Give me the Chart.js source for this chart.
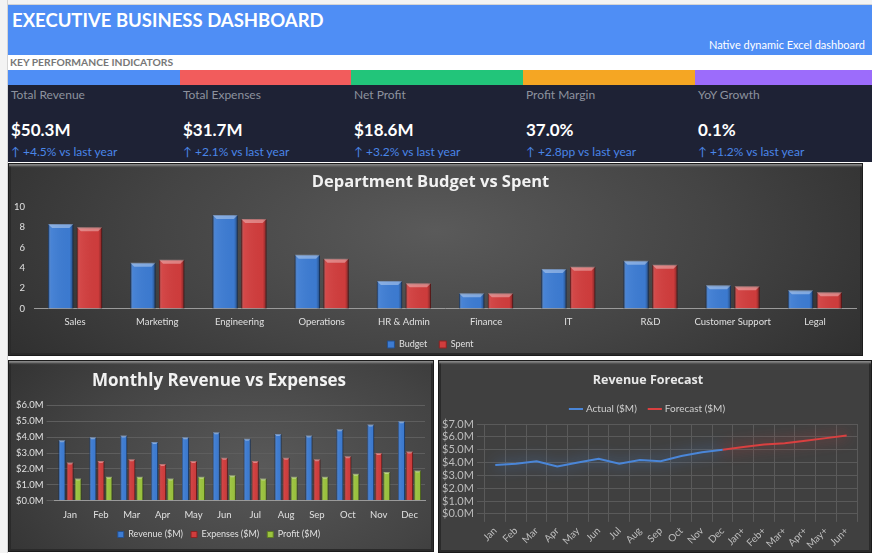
<!DOCTYPE html>
<html>
<head>
<meta charset="utf-8">
<script src="https://cdn.jsdelivr.net/npm/chart.js@4.4.1/dist/chart.umd.min.js"></script>
<style>
  html, body { margin: 0; padding: 0; }
  body { width: 872px; height: 553px; position: relative; overflow: hidden; background: #fff; font-family: Lato, "Open Sans", sans-serif; }
  .rowhdr { position: absolute; left: 0; top: 0; width: 7px; height: 553px; background: #f3f3f3; border-right: 1px solid #d4d4d4; }
  .colhdr { position: absolute; left: 0; top: 0; width: 872px; height: 4px; background: #f3f3f3; border-bottom: 1px solid #d4d4d4; }
  .header { position: absolute; left: 8px; top: 5px; width: 864px; height: 50px; background: #4f8ef5; color: #fff; }
  .header h1 { margin: 0; position: absolute; left: 4px; top: 4px; font-size: 18.5px; font-weight: 700; }
  .header .sub { position: absolute; right: 7px; top: 33px; font-size: 11px; }
  .kpititle { position: absolute; left: 10px; top: 56px; font-size: 10.3px; font-weight: 700; color: #777; }
  .kpibar { position: absolute; top: 70px; height: 15px; }
  .kpibox { position: absolute; top: 85px; height: 77px; background: #1e2235; }
  .kpibox .lbl { position: absolute; left: 3px; top: 2px; font-size: 12px; color: #8d929e; }
  .kpibox .val { position: absolute; left: 3px; top: 34px; font-size: 17px; font-weight: 700; color: #fff; }
  .kpibox .chg { position: absolute; left: 3px; top: 59px; font-size: 12px; color: #4a86e8; }
  .panel { position: absolute; box-sizing: border-box; border: 1px solid #1c1c1c; box-shadow: inset 0 3px 2px -1px #8a8a8a, inset 0 0 0 2px #2a2a2a; }
  .panel canvas { position: absolute; left: 0; top: 0; }
</style>
</head>
<body>
<div class="colhdr"></div>
<div class="rowhdr"></div>
<div class="header">
  <h1>EXECUTIVE BUSINESS DASHBOARD</h1>
  <div class="sub">Native dynamic Excel dashboard</div>
</div>
<div class="kpititle">KEY PERFORMANCE INDICATORS</div>
<div id="kpis"></div>

<div class="panel" style="left:8px;top:163px;width:855px;height:193px;background:radial-gradient(ellipse 60% 120% at 50% 35%, #5a5a5a 0%, #444 55%, #2f2f2f 100%);">
  <canvas id="deptChart" width="855" height="193"></canvas>
</div>
<div class="panel" style="left:8px;top:360px;width:426px;height:192px;background:radial-gradient(ellipse 80% 110% at 60% 55%, #595959 0%, #444 55%, #2e2e2e 100%);">
  <canvas id="monthChart" width="426" height="192"></canvas>
</div>
<div class="panel" style="left:438px;top:360px;width:434px;height:193px;background:#404040;">
  <canvas id="fcChart" width="434" height="193"></canvas>
</div>

<script>
// KPI cards
const kpiLabels = ['Total Revenue', 'Total Expenses', 'Net Profit', 'Profit Margin', 'YoY Growth'];
const kpiValues = ['$50.3M', '$31.7M', '$18.6M', '37.0%', '0.1%'];
const kpiChanges = ['+4.5% vs last year', '+2.1% vs last year', '+3.2% vs last year', '+2.8pp vs last year', '+1.2% vs last year'];
const kpiColors = ['#4f8ef5', '#f25c5c', '#22c57a', '#f5a623', '#9c6cfb'];

// Department budget vs spent
const departments = ['Sales', 'Marketing', 'Engineering', 'Operations', 'HR & Admin', 'Finance', 'IT', 'R&D', 'Customer Support', 'Legal'];
const budget = [8.3, 4.5, 9.2, 5.3, 2.7, 1.5, 3.9, 4.7, 2.3, 1.8];
const spent = [8.0, 4.8, 8.8, 4.9, 2.5, 1.5, 4.1, 4.3, 2.2, 1.6];

// Monthly revenue vs expenses
const months = ['Jan', 'Feb', 'Mar', 'Apr', 'May', 'Jun', 'Jul', 'Aug', 'Sep', 'Oct', 'Nov', 'Dec'];
const revenue = [3.8, 4.0, 4.1, 3.7, 4.0, 4.3, 3.9, 4.2, 4.1, 4.5, 4.8, 5.0];
const expenses = [2.4, 2.5, 2.6, 2.3, 2.5, 2.7, 2.5, 2.7, 2.6, 2.8, 3.0, 3.1];
const profit = [1.4, 1.5, 1.5, 1.4, 1.5, 1.6, 1.4, 1.5, 1.5, 1.7, 1.8, 1.9];

// Forecast
const fcLabels = ['Jan', 'Feb', 'Mar', 'Apr', 'May', 'Jun', 'Jul', 'Aug', 'Sep', 'Oct', 'Nov', 'Dec', 'Jan+', 'Feb+', 'Mar+', 'Apr+', 'May+', 'Jun+'];
const actual = [3.8, 3.9, 4.1, 3.7, 4.0, 4.3, 3.9, 4.2, 4.1, 4.5, 4.8, 5.0, null, null, null, null, null, null];
const forecast = [null, null, null, null, null, null, null, null, null, null, null, 5.0, 5.2, 5.4, 5.5, 5.7, 5.9, 6.1];

const kpiX = [8, 180, 351, 523, 695];
const kpiW = [172, 171, 172, 172, 177];
const kpiWrap = document.getElementById('kpis');
kpiLabels.forEach((l, i) => {
  const bar = document.createElement('div');
  bar.className = 'kpibar';
  bar.style.left = kpiX[i] + 'px';
  bar.style.width = kpiW[i] + 'px';
  bar.style.background = kpiColors[i];
  kpiWrap.appendChild(bar);
  const box = document.createElement('div');
  box.className = 'kpibox';
  box.style.left = kpiX[i] + 'px';
  box.style.width = kpiW[i] + 'px';
  box.innerHTML = '<div class="lbl">' + l + '</div><div class="val">' + kpiValues[i] + '</div><div class="chg">\u2191 ' + kpiChanges[i] + '</div>';
  kpiWrap.appendChild(box);
});

const FONT = 'Lato, "Open Sans", sans-serif';
const TFONT = '"Open Sans", Lato, sans-serif';
Chart.defaults.font.family = FONT;
Chart.defaults.color = '#d0d0d0';

// bevel look for the bars
const bevel = {
  id: 'bevel',
  afterDatasetsDraw(chart) {
    const ctx = chart.ctx;
    chart.data.datasets.forEach((ds, i) => {
      const meta = chart.getDatasetMeta(i);
      if (meta.type !== 'bar') return;
      meta.data.forEach(bar => {
        const p = bar.getProps(['x', 'y', 'base', 'width'], true);
        const l = p.x - p.width / 2, r = p.x + p.width / 2;
        const g = ctx.createLinearGradient(l, 0, r, 0);
        g.addColorStop(0, 'rgba(0,0,0,0.35)');
        g.addColorStop(0.12, 'rgba(255,255,255,0.06)');
        g.addColorStop(0.85, 'rgba(0,0,0,0.02)');
        g.addColorStop(1, 'rgba(0,0,0,0.4)');
        ctx.fillStyle = g;
        ctx.fillRect(l, p.y, p.width, p.base - p.y);
        const cap = Math.max(2, Math.min(4, p.width * 0.18));
        ctx.fillStyle = 'rgba(255,255,255,0.35)';
        ctx.beginPath();
        ctx.moveTo(l, p.y); ctx.lineTo(r, p.y); ctx.lineTo(r - cap, p.y + cap); ctx.lineTo(l + cap, p.y + cap);
        ctx.closePath(); ctx.fill();
      });
    });
  }
};

// soft glow under the line series
const glow = {
  id: 'glow',
  beforeDatasetDraw(chart, args) {
    const ds = chart.data.datasets[args.index];
    if (chart.getDatasetMeta(args.index).type !== 'line') return;
    chart.ctx.save();
    chart.ctx.shadowColor = ds.borderColor;
    chart.ctx.shadowBlur = 14;
  },
  afterDatasetDraw(chart, args) {
    if (chart.getDatasetMeta(args.index).type !== 'line') return;
    chart.ctx.restore();
  }
};

const titleFont = (size) => ({ size: size, weight: 'bold', family: TFONT });

new Chart(document.getElementById('deptChart'), {
  type: 'bar',
  data: {
    labels: departments,
    datasets: [
      { label: 'Budget', data: budget, backgroundColor: '#3d7cd3', borderColor: '#24508f', borderWidth: 1 },
      { label: 'Spent', data: spent, backgroundColor: '#d13d3d', borderColor: '#8c2424', borderWidth: 1 }
    ]
  },
  options: {
    responsive: false,
    animation: false,
    layout: { padding: { left: -4, right: 8, top: 2, bottom: -2 } },
    datasets: { bar: { categoryPercentage: 0.7, barPercentage: 0.88 } },
    plugins: {
      title: { display: true, text: 'Department Budget vs Spent', color: '#f2f2f2', font: titleFont(16.5), padding: { top: 6, bottom: 15 } },
      legend: { position: 'bottom', labels: { boxWidth: 7, boxHeight: 7, font: { size: 9 }, color: '#e0e0e0', padding: 12 } },
      tooltip: { enabled: false }
    },
    scales: {
      x: { grid: { display: false }, border: { color: '#9a9a9a' }, ticks: { font: { size: 9.5 }, color: '#e0e0e0', maxRotation: 0, autoSkip: false, padding: 0 } },
      y: { min: 0, max: 10, ticks: { stepSize: 2, font: { size: 9.5 }, color: '#e0e0e0', padding: 9 }, grid: { display: false, drawTicks: false }, border: { display: false } }
    }
  },
  plugins: [bevel]
});

new Chart(document.getElementById('monthChart'), {
  type: 'bar',
  data: {
    labels: months,
    datasets: [
      { label: 'Revenue ($M)', data: revenue, backgroundColor: '#3d7cd3', borderColor: '#24508f', borderWidth: 1 },
      { label: 'Expenses ($M)', data: expenses, backgroundColor: '#d13d3d', borderColor: '#8c2424', borderWidth: 1 },
      { label: 'Profit ($M)', data: profit, backgroundColor: '#9cc43e', borderColor: '#5f7d22', borderWidth: 1 }
    ]
  },
  options: {
    responsive: false,
    animation: false,
    layout: { padding: { left: 4, right: 10, top: 4, bottom: 4 } },
    datasets: { bar: { categoryPercentage: 0.78, barPercentage: 0.87 } },
    plugins: {
      title: { display: true, text: 'Monthly Revenue vs Expenses', color: '#f2f2f2', font: titleFont(17), padding: { top: 6, bottom: 14 } },
      legend: { position: 'bottom', labels: { boxWidth: 6, boxHeight: 6, font: { size: 9 }, color: '#e0e0e0', padding: 8 } },
      tooltip: { enabled: false }
    },
    scales: {
      x: { grid: { display: false }, border: { color: '#9a9a9a' }, ticks: { font: { size: 9.5 }, color: '#e0e0e0', maxRotation: 0, autoSkip: false, padding: 1 } },
      y: { min: 0, max: 6, ticks: { stepSize: 1, font: { size: 9.5 }, color: '#e0e0e0', autoSkip: false, callback: v => '$' + v.toFixed(1) + 'M' }, grid: { color: '#5e5e5e' }, border: { display: false } }
    }
  },
  plugins: [bevel]
});

new Chart(document.getElementById('fcChart'), {
  type: 'line',
  data: {
    labels: fcLabels,
    datasets: [
      { label: 'Actual ($M)', data: actual, borderColor: '#4a86d8', borderWidth: 2, pointRadius: 0, tension: 0, spanGaps: false },
      { label: 'Forecast ($M)', data: forecast, borderColor: '#d94040', borderWidth: 2, pointRadius: 0, tension: 0, spanGaps: false }
    ]
  },
  options: {
    responsive: false,
    animation: false,
    layout: { padding: { left: 0, right: 16, top: 4, bottom: 0 } },
    plugins: {
      title: { display: true, text: 'Revenue Forecast', color: '#e8e8e8', font: titleFont(12.5), padding: { top: 8, bottom: 3 } },
      legend: { position: 'top', labels: { usePointStyle: true, pointStyle: 'line', boxWidth: 22, font: { size: 10 }, color: '#cfcfcf', padding: 13 } },
      tooltip: { enabled: false }
    },
    scales: {
      x: { offset: true, grid: { offset: true, color: '#5a5a5a' }, border: { color: '#5a5a5a' }, ticks: { font: { size: 10 }, color: '#bdbdbd', minRotation: 45, maxRotation: 45, autoSkip: false } },
      y: { min: 0, max: 7, ticks: { stepSize: 1, font: { size: 11 }, color: '#bdbdbd', autoSkip: false, callback: v => '$' + v.toFixed(1) + 'M' }, grid: { color: '#5a5a5a' }, border: { color: '#5a5a5a' } }
    }
  },
  plugins: [glow]
});
</script>
</body>
</html>
